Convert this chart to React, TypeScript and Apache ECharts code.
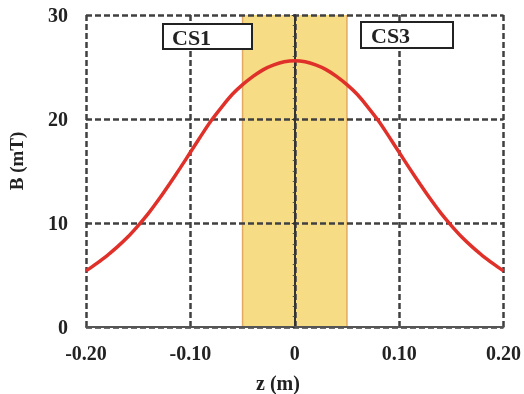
import React, { useEffect, useRef } from "react";
import * as echarts from "echarts";

const zValues = [-0.2, -0.19, -0.18, -0.17, -0.16, -0.15, -0.14, -0.13, -0.12, -0.11, -0.1, -0.09, -0.08, -0.07, -0.06, -0.05, -0.04, -0.03, -0.02, -0.01, 0, 0.01, 0.02, 0.03, 0.04, 0.05, 0.06, 0.07, 0.08, 0.09, 0.1, 0.11, 0.12, 0.13, 0.14, 0.15, 0.16, 0.17, 0.18, 0.19, 0.2];
const bValues = [5.4, 6.1, 6.85, 7.7, 8.65, 9.75, 10.95, 12.3, 13.75, 15.25, 16.8, 18.35, 19.85, 21.15, 22.35, 23.3, 24.1, 24.75, 25.2, 25.5, 25.6, 25.5, 25.2, 24.75, 24.1, 23.3, 22.35, 21.15, 19.85, 18.35, 16.8, 15.25, 13.75, 12.3, 10.95, 9.75, 8.65, 7.7, 6.85, 6.1, 5.4];
const bandRange = [-0.05, 0.05];
const xTicks = { min: -0.2, max: 0.2, interval: 0.1 };
const yTicks = { min: 0, max: 30, interval: 10 };
const annotations = ["CS1", "CS3"];

const FONT = "'Liberation Serif', 'Times New Roman', serif";

export default function App() {
  const ref = useRef<HTMLDivElement>(null);
  useEffect(() => {
    if (!ref.current) return;
    const chart = echarts.init(ref.current, null, { renderer: "svg" });
    const dash = { color: "#404040", width: 2.5, type: [6, 3] as any };
    chart.setOption({
      animation: false,
      grid: { left: 86, right: 17, top: 15, bottom: 67, containLabel: false },
      xAxis: {
        type: "value",
        min: xTicks.min,
        max: xTicks.max,
        interval: xTicks.interval,
        axisLine: { show: true, onZero: false, lineStyle: { color: "#555", width: 2 } },
        axisTick: { show: false },
        splitLine: { show: true, lineStyle: dash },
        axisLabel: {
          margin: 16,
          color: "#222",
          fontFamily: FONT,
          fontWeight: "bold",
          fontSize: 20,
          formatter: (v: number) => (Math.abs(v) < 1e-9 ? "0" : v.toFixed(2)),
        },
      },
      yAxis: {
        type: "value",
        min: yTicks.min,
        max: yTicks.max,
        interval: yTicks.interval,
        axisLine: { show: true, lineStyle: { color: "#333", width: 2 } },
        axisTick: { show: true, length: 3, lineStyle: { color: "#333", width: 1 } },
        minorTick: { show: true, splitNumber: 10, length: 2, lineStyle: { color: "#555", width: 1 } },
        splitLine: { show: true, lineStyle: dash },
        axisLabel: {
          margin: 18,
          color: "#222",
          fontFamily: FONT,
          fontWeight: "bold",
          fontSize: 20,
        },
      },
      series: [
        {
          type: "line",
          z: -1,
          data: [[bandRange[0], yTicks.max], [bandRange[1], yTicks.max]],
          symbol: "none",
          lineStyle: { width: 0 },
          areaStyle: { color: "#F6DC84", opacity: 1, origin: "start" },
          silent: true,
        },
        {
          type: "line",
          z: -1,
          data: [[bandRange[0], yTicks.min], [bandRange[0], yTicks.max]],
          symbol: "none",
          lineStyle: { width: 1.5, color: "#E2A962" },
          silent: true,
        },
        {
          type: "line",
          z: -1,
          data: [[bandRange[1], yTicks.min], [bandRange[1], yTicks.max]],
          symbol: "none",
          lineStyle: { width: 1.5, color: "#E2A962" },
          silent: true,
        },
        {
          type: "line",
          z: 5,
          data: zValues.map((z, i) => [z, bValues[i]]),
          smooth: 0.3,
          symbol: "none",
          lineStyle: { width: 3.5, color: "#E0302A" },
        },
      ],
      graphic: [
        {
          type: "rect",
          z: 100,
          shape: { x: 163, y: 24, width: 89, height: 25 },
          style: { fill: "#fff", stroke: "#222", lineWidth: 2 },
        },
        {
          type: "text",
          z: 101,
          x: 172,
          y: 37,
          style: { text: annotations[0], fill: "#222", font: `bold 22px ${FONT}`, verticalAlign: "middle", align: "left" },
        },
        {
          type: "rect",
          z: 100,
          shape: { x: 361, y: 22, width: 92, height: 26 },
          style: { fill: "#fff", stroke: "#222", lineWidth: 2 },
        },
        {
          type: "text",
          z: 101,
          x: 371,
          y: 35,
          style: { text: annotations[1], fill: "#222", font: `bold 22px ${FONT}`, verticalAlign: "middle", align: "left" },
        },
        {
          type: "text",
          z: 101,
          x: 278,
          y: 383,
          style: { text: "z (m)", fill: "#222", font: `bold 20px ${FONT}`, verticalAlign: "middle", align: "center" },
        },
        {
          type: "text",
          z: 101,
          x: 16,
          y: 161,
          rotation: Math.PI / 2,
          style: { text: "B (mT)", fill: "#222", font: `bold 19px ${FONT}`, verticalAlign: "middle", align: "center" },
        },
      ],
    });
    return () => chart.dispose();
  }, []);
  return <div ref={ref} style={{ position: "fixed", left: 0, top: 0, width: 524, height: 394 }} />;
}
